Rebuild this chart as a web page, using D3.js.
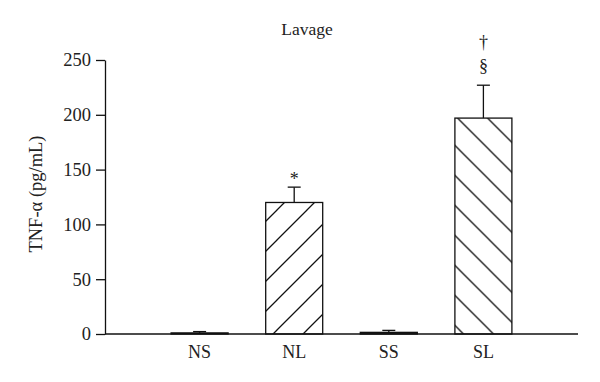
<!DOCTYPE html>
<html><head><meta charset="utf-8">
<script src="https://cdn.jsdelivr.net/npm/d3@7"></script>
<style>body{margin:0;background:#fff}svg{display:block}text{font-family:"Liberation Serif","DejaVu Serif",serif;fill:#222}</style>
</head><body><svg id="c" width="600" height="382"></svg>
<script>
const categories = ["NS","NL","SS","SL"];
const values = [1, 120, 1.5, 197];
const errors = [1.2, 14, 1.8, 30];
const hatch = ["none","fwd","none","back"];
const marks = [[], ["*"], [], ["†","§"]];
const markOffsets = [[], [2], [], [37, 13]];
const yTicks = [0,50,100,150,200,250];

const svg = d3.select("#c");
const x = d3.scalePoint().domain(categories).range([105,578]).padding(1);
const y = d3.scaleLinear().domain([0,250]).range([334,60]);
const bw = 57;

const defs = svg.append("defs");
function pat(id, d, tx){
  const p = defs.append("pattern").attr("id",id).attr("patternUnits","userSpaceOnUse")
    .attr("width",30).attr("height",30).attr("patternTransform",`translate(${tx},0)`);
  p.append("rect").attr("width",30).attr("height",30).attr("fill","#fff");
  p.append("path").attr("d",d).attr("stroke","#111").attr("stroke-width",1.3).attr("fill","none");
}
pat("fwd","M-5,35 L35,-5 M-5,5 L5,-5 M25,35 L35,25", 7);
pat("back","M-5,-5 L35,35 M25,-5 L35,5 M-5,25 L5,35", 9.5);

// title
svg.append("text").attr("x",307).attr("y",35).attr("text-anchor","middle").attr("font-size",17.5).text("Lavage");

// y axis
const ya = svg.append("g").attr("transform","translate(105,0)")
  .call(d3.axisLeft(y).tickValues(yTicks).tickSize(9).tickSizeOuter(0).tickPadding(5));
ya.select(".domain").attr("stroke","#111").attr("stroke-width",1.3);
ya.selectAll(".tick line").attr("stroke","#111").attr("stroke-width",1.3);
ya.selectAll(".tick text").attr("font-size",18.5).attr("font-family","Liberation Serif, serif").attr("fill","#222");

svg.append("text").attr("transform","translate(42,194) rotate(-90)").attr("text-anchor","middle")
  .attr("font-size",18.5).text("TNF-α (pg/mL)");

// bars
const g = svg.append("g");
categories.forEach((c,i)=>{
  const cx = x(c), top = y(values[i]);
  g.append("rect").attr("x",cx-bw/2).attr("y",top).attr("width",bw).attr("height",y(0)-top)
    .attr("fill", hatch[i]==="none" ? "#333" : `url(#${hatch[i]})`)
    .attr("stroke","#111").attr("stroke-width",1.3);
  const et = y(values[i]+errors[i]);
  g.append("line").attr("x1",cx).attr("x2",cx).attr("y1",top).attr("y2",et).attr("stroke","#111").attr("stroke-width",1.3);
  g.append("line").attr("x1",cx-6.5).attr("x2",cx+6.5).attr("y1",et).attr("y2",et).attr("stroke","#111").attr("stroke-width",1.3);
  marks[i].forEach((m,k)=>{
    g.append("text").attr("x",cx).attr("y",et-markOffsets[i][k]).attr("text-anchor","middle")
      .attr("font-size",18).text(m);
  });
  svg.append("text").attr("x",cx).attr("y",358).attr("text-anchor","middle").attr("font-size",18).text(c);
});

// x axis line
svg.append("line").attr("x1",105).attr("x2",578).attr("y1",334).attr("y2",334).attr("stroke","#111").attr("stroke-width",1.3);
</script></body></html>
